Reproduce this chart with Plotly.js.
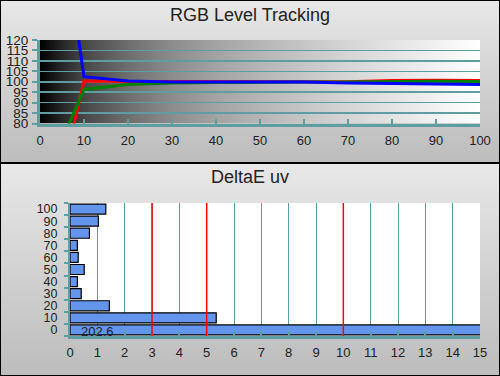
<!DOCTYPE html>
<html><head><meta charset="utf-8">
<script src="https://cdn.plot.ly/plotly-3.0.1.min.js"></script>
<style>html,body{margin:0;padding:0;background:#fff}#chart{width:500px;height:376px}</style>
</head><body><div id="chart"></div>
<script>
// ---- data ----
const levels      = [0, 10, 20, 30, 40, 50, 60, 70, 80, 90, 100];
const redLevels   = [10, 100.3, 100.1, 100.0, 100.1, 99.9, 100.0, 100.0, 100.6, 100.7, 100.6];
const greenLevels = [48, 96.3, 98.7, 99.4, 99.7, 99.9, 99.9, 99.9, 100.1, 100.2, 100.1];
const blueLevels  = [248, 102.4, 100.4, 99.9, 99.9, 100.0, 99.9, 99.4, 99.1, 98.8, 98.7];
const rgbXTicks   = [0, 10, 20, 30, 40, 50, 60, 70, 80, 90, 100];
const rgbYTicks   = [80, 85, 90, 95, 100, 105, 110, 115, 120];

const deCategories = ['0', '10', '20', '30', '40', '50', '60', '70', '80', '90', '100'];
const deValues     = [202.6, 5.35, 1.44, 0.41, 0.27, 0.52, 0.30, 0.27, 0.71, 1.04, 1.31];
const deThresholds = [3, 5, 10];
const deXTicks     = [0,1,2,3,4,5,6,7,8,9,10,11,12,13,14,15];

// ---- styling helpers ----
const TEAL = '#5f9ea0';
const FONT = 'Liberation Sans, Arial, sans-serif';
function gradURI(dir, stops) {
  const [x1,y1,x2,y2] = dir === 'h' ? [0,0,1,0] : [0,0,0,1];
  const st = stops.map(s => `<stop offset="${s[0]}" stop-color="${s[1]}"/>`).join('');
  const svg = `<svg xmlns="http://www.w3.org/2000/svg" width="100" height="100" preserveAspectRatio="none">` +
    `<defs><linearGradient id="g" x1="${x1}" y1="${y1}" x2="${x2}" y2="${y2}">${st}</linearGradient></defs>` +
    `<rect width="100" height="100" fill="url(#g)"/></svg>`;
  return 'data:image/svg+xml;charset=utf-8,' + encodeURIComponent(svg);
}
const panelGrad = gradURI('v', [[0,'#e8e8e8'],[1,'#bcbcbc']]);
const plotGrad = gradURI('h', [[0,'#000000'],[0.05,'#262626'],[0.1,'#474747'],[0.2,'#6e6e6e'],
  [0.3,'#8c8c8c'],[0.4,'#a3a3a3'],[0.5,'#b5b5b5'],[0.6,'#c6c6c6'],[0.7,'#d5d5d5'],
  [0.8,'#e3e3e3'],[0.9,'#f1f1f1'],[1,'#ffffff']]);

const H = 376;
const py = px => (H - px) / H;   // pixel row -> paper y

const traces = [
  {x: levels, y: redLevels, type: 'scatter', mode: 'lines', line: {color: '#ff0000', width: 3}, xaxis: 'x', yaxis: 'y', hoverinfo: 'skip'},
  {x: levels, y: greenLevels, type: 'scatter', mode: 'lines', line: {color: '#008000', width: 3}, xaxis: 'x', yaxis: 'y', hoverinfo: 'skip'},
  {x: levels, y: blueLevels, type: 'scatter', mode: 'lines', line: {color: '#0000ff', width: 3}, xaxis: 'x', yaxis: 'y', hoverinfo: 'skip'},
  {x: deValues, y: deCategories, type: 'bar', orientation: 'h', xaxis: 'x2', yaxis: 'y2',
   marker: {color: '#6495ed', line: {color: '#000000', width: 1.2}}, hoverinfo: 'skip'}
];

const shapes = [
  {type: 'rect', xref: 'x2 domain', yref: 'y2 domain', x0: 0, x1: 1, y0: 0, y1: 1,
   fillcolor: '#ffffff', line: {width: 0}, layer: 'below'},
  {type: 'line', xref: 'paper', yref: 'paper', x0: 0, x1: 1, y0: py(163), y1: py(163),
   line: {color: '#000', width: 2}},
  {type: 'rect', xref: 'paper', yref: 'paper', x0: 0, x1: 1, y0: 0, y1: 1,
   line: {color: '#000', width: 2}}
];
deThresholds.forEach(t => shapes.push({type: 'line', xref: 'x2', yref: 'y2 domain', x0: t, x1: t, y0: 0, y1: 1,
  line: {color: '#ff0000', width: 1.5}, layer: 'above'}));

const layout = {
  width: 500, height: 376,
  margin: {l: 0, r: 0, t: 0, b: 0},
  paper_bgcolor: '#d0d0d0', plot_bgcolor: '#ffffff',
  showlegend: false,
  font: {family: FONT, color: '#222222'},
  images: [
    {source: panelGrad, xref: 'paper', yref: 'paper', x: 0, y: 1, sizex: 1, sizey: 1 - py(163), sizing: 'stretch', xanchor: 'left', yanchor: 'top', layer: 'below'},
    {source: panelGrad, xref: 'paper', yref: 'paper', x: 0, y: py(163), sizex: 1, sizey: py(163), sizing: 'stretch', xanchor: 'left', yanchor: 'top', layer: 'below'},
    {source: plotGrad, xref: 'x', yref: 'y', x: 0, y: 120, sizex: 100, sizey: 40, sizing: 'stretch', xanchor: 'left', yanchor: 'top', layer: 'below'}
  ],
  xaxis: {domain: [40/500, 480/500], range: [0, 100], anchor: 'y', tickvals: rgbXTicks,
    showgrid: false, zeroline: false, showline: true, linecolor: TEAL, linewidth: 3,
    ticks: 'inside', ticklen: 5, tickwidth: 2, tickcolor: TEAL, ticklabelstandoff: 3,
    tickfont: {size: 13, color: '#222'}, fixedrange: true},
  yaxis: {domain: [py(123.5), py(40)], range: [80, 120], anchor: 'x', tickvals: rgbYTicks,
    showgrid: true, gridcolor: TEAL, gridwidth: 1.5, zeroline: false,
    showline: true, linecolor: TEAL, linewidth: 3,
    ticks: 'outside', ticklen: 5, tickwidth: 2, tickcolor: TEAL, ticklabelstandoff: 1,
    tickfont: {size: 13.5, color: '#222'}, fixedrange: true},
  xaxis2: {domain: [70/500, 480/500], range: [0, 15], anchor: 'y2', tickvals: deXTicks,
    showgrid: true, gridcolor: TEAL, gridwidth: 1, zeroline: false,
    showline: true, linecolor: TEAL, linewidth: 3,
    ticks: 'inside', ticklen: 5, tickwidth: 2, tickcolor: TEAL, ticklabelstandoff: 2,
    tickfont: {size: 13, color: '#222'}, fixedrange: true},
  yaxis2: {domain: [py(336), py(203)], type: 'category', categoryorder: 'array', categoryarray: deCategories,
    tickmode: 'array', tickvals: deCategories, ticktext: deCategories,
    range: [-0.5, 10.5], anchor: 'x2', tickson: 'boundaries',
    showgrid: false, zeroline: false, showline: true, linecolor: TEAL, linewidth: 2,
    ticks: 'outside', ticklen: 4, tickwidth: 2, tickcolor: TEAL, ticklabelstandoff: 8,
    tickfont: {size: 12.5, color: '#222'}, fixedrange: true},
  bargap: 0.17,
  shapes: shapes,
  annotations: [
    {text: 'RGB Level Tracking', xref: 'paper', yref: 'paper', x: 0.5, y: py(14.5), xanchor: 'center', yanchor: 'middle',
     showarrow: false, font: {size: 18, color: '#222', family: FONT}},
    {text: 'DeltaE uv', xref: 'paper', yref: 'paper', x: 0.5, y: py(177.5), xanchor: 'center', yanchor: 'middle',
     showarrow: false, font: {size: 18, color: '#222', family: FONT}},
    {text: String(deValues[0]), xref: 'x2', yref: 'y2', x: 1, y: deCategories[0], xanchor: 'center', yanchor: 'middle',
     yshift: -2, showarrow: false, font: {size: 13, color: '#222', family: FONT}}
  ]
};

Plotly.newPlot('chart', traces, layout, {staticPlot: true, displayModeBar: false});
</script></body></html>
